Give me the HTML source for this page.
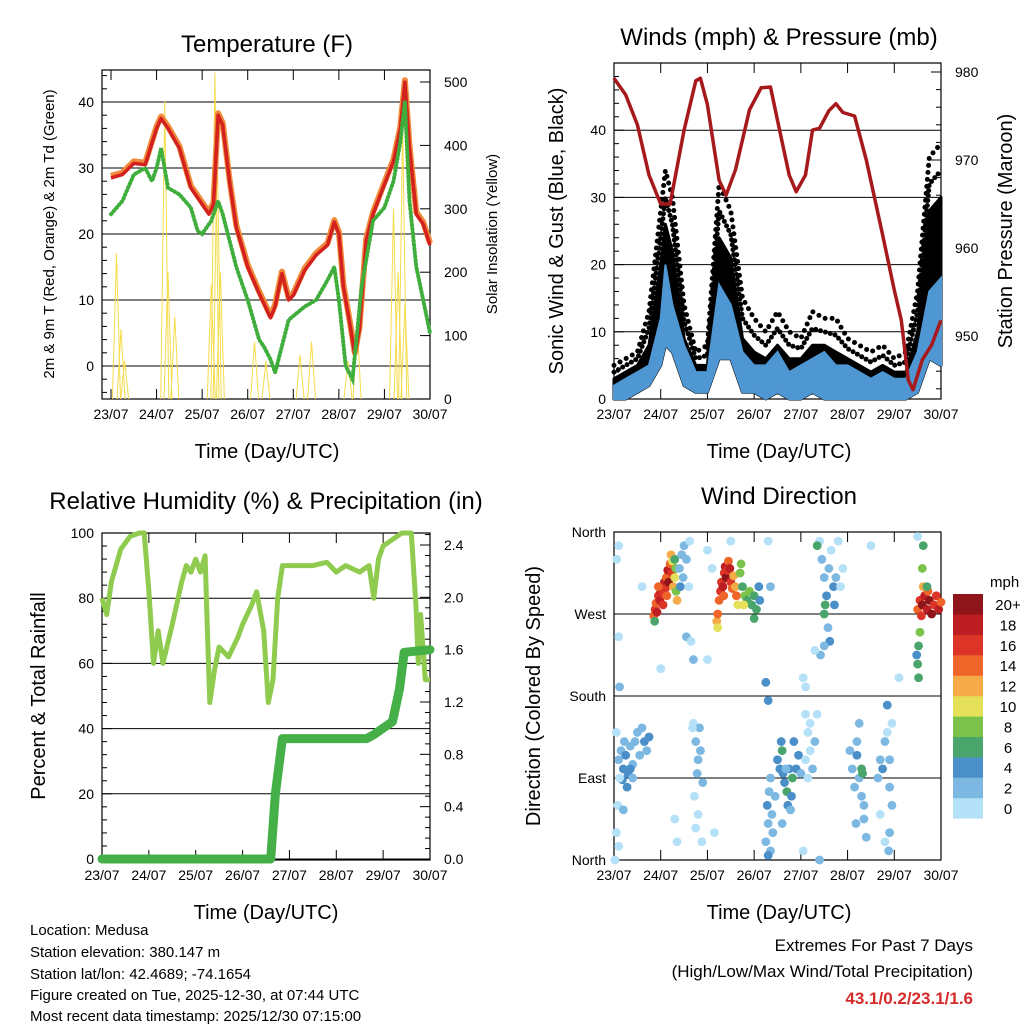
<!DOCTYPE html>
<html><head><meta charset="utf-8"><style>
body{margin:0;background:#fff;}
svg{display:block;font-family:"Liberation Sans",Arial,sans-serif;}
</style></head><body>
<svg id="s" width="1024" height="1024" viewBox="0 0 1024 1024">
<g font-size="24" text-anchor="middle">
<text x="267" y="52">Temperature (F)</text>
<text x="779" y="45">Winds (mph) &amp; Pressure (mb)</text>
<text x="266" y="509">Relative Humidity (%) &amp; Precipitation (in)</text>
<text x="779" y="504">Wind Direction</text>
</g>
<g font-size="20" text-anchor="middle">
<text x="267" y="458">Time (Day/UTC)</text>
<text x="779" y="458">Time (Day/UTC)</text>
<text x="266" y="919">Time (Day/UTC)</text>
<text x="779" y="919">Time (Day/UTC)</text>
<text transform="translate(54,234) rotate(-90)" font-size="15">2m &amp; 9m T (Red, Orange) &amp; 2m Td (Green)</text>
<text transform="translate(497,234) rotate(-90)" font-size="15">Solar Insolation (Yellow)</text>
<text transform="translate(563,231) rotate(-90)">Sonic Wind &amp; Gust (Blue, Black)</text>
<text transform="translate(1012,231) rotate(-90)">Station Pressure (Maroon)</text>
<text transform="translate(45,696) rotate(-90)">Percent &amp; Total Rainfall</text>
<text transform="translate(540,696) rotate(-90)">Direction (Colored By Speed)</text>
</g>
<g font-size="15">
<text x="30" y="935">Location: Medusa</text>
<text x="30" y="957">Station elevation: 380.147 m</text>
<text x="30" y="979">Station lat/lon: 42.4689; -74.1654</text>
<text x="30" y="1000">Figure created on Tue, 2025-12-30, at 07:44 UTC</text>
<text x="30" y="1021">Most recent data timestamp: 2025/12/30 07:15:00</text>
</g>
<g font-size="17" text-anchor="end">
<text x="973" y="951">Extremes For Past 7 Days</text>
<text x="973" y="977">(High/Low/Max Wind/Total Precipitation)</text>
<text x="973" y="1004" fill="#d62a2a" font-weight="bold">43.1/0.2/23.1/1.6</text>
</g>
</svg>
<script>
// ---- data ----
const dayLabels=["23/07","24/07","25/07","26/07","27/07","28/07","29/07","30/07"];
const tempTimes=[0,0.25,0.5,0.75,1.0,1.1,1.25,1.5,1.75,2.0,2.15,2.25,2.35,2.45,2.6,2.75,3.0,3.25,3.5,3.6,3.75,3.9,4.0,4.25,4.5,4.75,4.9,5.0,5.1,5.25,5.35,5.45,5.6,5.75,6.0,6.2,6.35,6.45,6.55,6.7,6.85,7.0];
const tempValues=[28.5,29,30.7,30.5,36,37.5,36,33,27,24.5,23,24.5,38,36.5,28,21,15,11,7.3,9,14,10,10.7,14.5,16.8,18.3,21.8,20,12,6,1.7,5.5,19,23,27.5,31,36,43,33,23,21.5,18.3];
const dewTimes=[0,0.25,0.5,0.75,0.9,1.0,1.1,1.25,1.5,1.75,1.9,2.0,2.2,2.35,2.45,2.6,2.75,3.0,3.25,3.35,3.5,3.6,3.75,3.9,4.25,4.5,4.75,4.9,5.0,5.15,5.3,5.5,5.75,6.0,6.2,6.35,6.45,6.55,6.7,6.85,7.0];
const dewValues=[23,25,29,30,28,30,33,27,26,24,20.5,20,22,25,23,19,15,10,4,3,1,-1,3,7,9,10,13,15,10,0,-2,12,22,24,28,34,40,25,15,10,5];
const solarTimes=[0.12,0.22,0.3,1.18,1.25,1.4,2.2,2.28,2.33,2.4,3.15,3.4,4.15,4.4,5.2,5.4,6.2,6.3,6.4,6.45];
const solarValues=[230,110,60,470,200,130,180,515,400,200,90,60,70,90,60,120,300,200,430,150];
const presTimes=[0,0.25,0.5,0.75,1.0,1.2,1.5,1.75,1.85,2.0,2.25,2.4,2.6,2.9,3.15,3.35,3.5,3.75,3.9,4.1,4.25,4.4,4.6,4.75,4.9,5.15,5.4,5.75,6.0,6.15,6.3,6.4,6.6,6.8,7.0];
const presValues=[979.3,977.4,974,968.3,965,965,973.4,979,979.3,976.3,967.7,966,968.9,975.7,978.2,978.3,974.5,968.3,966.4,968.3,973.4,973.6,975.6,976.4,975.4,975,970,961.5,955.2,951.8,945,943.9,947.3,949,951.8];
const windTimes=[0,0.25,0.5,0.75,1.0,1.1,1.25,1.5,1.75,2.0,2.25,2.5,2.75,3.0,3.25,3.5,3.75,4.0,4.25,4.5,4.75,5.0,5.25,5.5,5.75,6.0,6.25,6.5,6.75,7.0];
const windLow=[0,0,1,2,5,8,7,2,1,1,6,6,1,1,0,1,0,0,1,0,0,0,0,0,0,0,0,1,6,5];
const windHigh=[2,3,4,5,12,20,14,8,4,4,17,14,7,5,5,7,4,5,6,7,5,5,4,3,4,3,3,7,16,18];
const gustCore=[3,4,5,8,20,26,22,9,5,5,24,21,9,7,6,8,6,6,8,8,7,6,5,4,5,4,4,10,28,30];
const gustHigh=[5,6,7,13,28,34,30,14,7,8,32,28,15,12,10,13,10,9,13,12,12,9,8,7,8,6,7,16,36,38];
const rhTimes=[0,0.1,0.2,0.4,0.6,0.8,0.9,1.0,1.1,1.2,1.3,1.5,1.7,1.8,1.9,2.0,2.1,2.2,2.25,2.3,2.4,2.5,2.7,2.9,3.0,3.2,3.3,3.45,3.55,3.65,3.75,3.85,4.0,4.5,4.8,5.0,5.2,5.5,5.7,5.8,5.9,6.0,6.2,6.4,6.6,6.7,6.75,6.8,6.9,7.0];
const rhValues=[80,75,85,95,99,100,100,82,60,70,60,72,85,90,88,92,88,93,70,48,58,65,62,68,72,78,82,70,48,55,80,90,90,90,91,88,90,88,90,80,92,96,98,100,100,78,60,75,55,55];
const rainTimes=[0,3.6,3.7,3.85,5.65,5.8,6.0,6.2,6.35,6.45,7.0];
const rainValues=[0,0,0.5,0.92,0.92,0.95,1.0,1.05,1.3,1.58,1.6];
const dirObs=[[0.85,268,14],[0.88,275,16],[0.9,282,15],[0.92,272,18],[0.95,290,17],[0.98,285,19],[1.0,295,18],[1.02,300,20],[1.05,292,17],[1.08,305,19],[1.1,298,16],[1.12,310,15],[1.15,318,18],[1.17,305,20],[1.2,325,14],[1.22,335,12],[1.24,315,17],[1.27,300,13],[1.3,310,10],[1.33,295,8],[1.35,285,12],[0.87,262,6],[0.95,300,14],[1.05,280,16],[1.13,290,14],[1.25,328,10],[1.32,320,8],[1.3,330,7],
[1.4,320,3],[1.45,335,2],[1.5,345,2],[1.42,300,4],[1.48,310,3],[1.55,330,2],[1.6,300,1],[1.62,350,1],[1.55,245,3],[1.7,220,2],[1.65,240,1],
[2.2,262,12],[2.22,270,14],[2.25,285,15],[2.28,295,16],[2.3,305,17],[2.33,300,18],[2.36,315,16],[2.38,322,19],[2.4,310,20],[2.43,318,17],[2.45,328,14],[2.48,320,18],[2.5,305,16],[2.53,298,15],[2.56,312,13],[2.6,300,12],[2.62,290,14],[2.65,280,10],[2.22,255,10],[2.35,290,14],
[2.7,315,8],[2.75,300,7],[2.8,290,9],[2.85,285,6],[2.9,295,8],[2.95,280,7],[3.0,290,6],[3.05,275,7],[3.1,300,4],[3.12,285,5],[2.72,325,8],[2.78,280,10],[3.0,265,6],
[6.5,275,15],[6.55,285,17],[6.6,280,20],[6.65,290,19],[6.7,275,18],[6.75,285,22],[6.8,270,20],[6.85,280,17],[6.9,290,16],[6.95,275,18],[7.0,283,15],[6.58,268,16],[6.72,295,14],[6.62,300,12],
[6.6,320,8],[6.62,345,7],[6.55,250,8],[6.52,235,7],[6.5,215,6],[6.52,200,6],[6.48,225,4],[6.7,300,6],
[0.1,110,2],[0.15,120,3],[0.2,100,4],[0.25,115,4],[0.3,95,4],[0.35,125,3],[0.4,105,2],[0.45,130,3],[0.5,140,2],[0.55,115,3],[0.6,145,2],[0.65,130,4],[0.7,120,3],[0.75,135,4],[0.22,130,2],[0.28,80,4],[0.18,88,4],[0.05,140,1],[0.12,90,1],[0.35,100,4],[0.4,90,3],
[0.05,30,1],[0.1,15,0],[0.02,0,0],[0.08,60,1],[0.06,330,1],[0.1,345,0],[0.1,245,1],[0.12,190,3],[0.2,55,2],
[1.7,150,1],[1.75,130,2],[1.8,110,2],[1.85,120,2],[1.78,95,2],[1.72,70,1],[1.8,50,1],[1.88,20,1],[1.75,35,1],[1.83,145,2],[1.9,85,2],[1.68,145,1],
[3.25,20,3],[3.3,40,3],[3.35,10,3],[3.28,60,4],[3.32,75,3],[3.38,50,3],[3.4,30,2],[3.3,5,4],[3.35,90,2],[3.45,70,3],[3.25,195,4],[3.3,175,4],
[3.5,110,4],[3.55,100,5],[3.6,120,6],[3.62,95,5],[3.65,85,4],[3.7,75,6],[3.72,60,4],[3.75,100,5],[3.8,70,4],[3.85,130,4],[3.9,100,5],[3.95,115,4],[4.0,95,3],[3.58,130,4],[3.68,100,3],[3.82,90,6],[3.78,55,3],[3.6,40,2],
[4.1,160,1],[4.15,140,1],[4.2,120,1],[4.25,100,2],[4.1,110,1],[4.2,150,1],[4.3,130,2],[4.15,90,1],[4.05,10,0],[4.1,190,1],
[4.4,350,1],[4.45,330,2],[4.5,310,3],[4.55,290,4],[4.5,270,7],[4.52,280,6],[4.6,320,2],[4.65,340,1],[4.7,300,4],[4.75,310,3],[4.8,350,1],[4.72,280,4],[4.58,255,3],[4.62,240,4],[4.42,225,3],[4.5,235,2],[4.85,300,1],[4.9,320,1],[4.35,345,6],
[5.05,120,2],[5.1,100,3],[5.15,80,2],[5.2,115,4],[5.25,90,3],[5.3,70,2],[5.35,60,2],[5.3,100,6],[5.32,95,7],[5.35,45,2],[5.4,25,2],[5.2,130,3],[5.25,150,2],[5.18,40,2],
[5.65,90,2],[5.7,110,3],[5.75,100,4],[5.8,130,2],[5.85,140,1],[5.9,80,2],[5.95,60,2],[5.95,150,1],[5.9,30,2],[5.8,20,1],[5.85,170,4],[5.9,110,3],[5.7,50,1],[5.88,10,3],
[2.0,340,1],[2.1,320,1],[2.0,220,1],[2.5,350,0],[3.3,350,1],[3.35,300,3],[4.3,230,1],[4.35,160,1],[4.05,200,1],[4.4,0,2],[5.5,345,1],[6.5,355,1],[6.1,200,1],[1.35,20,1],[1.3,45,1],[2.15,30,1],[1.0,210,1],[0.6,300,1]];
const speedBinLabels=["0","2","4","6","8","10","12","14","16","18","20+"];
const speedColors=["#b4e1f7","#7db8e2","#4a8fc7","#4aa56d","#7bc24a","#e5e05a","#f5ab47","#ef6529","#dc3427","#bd1e24","#8e1519"];

// ---- helpers ----
const S=document.getElementById('s');const NS="http://www.w3.org/2000/svg";
function el(tag,attrs,parent){const e=document.createElementNS(NS,tag);for(const k in attrs)e.setAttribute(k,attrs[k]);(parent||S).appendChild(e);return e;}
function lin(d0,d1,r0,r1){return v=>r0+(v-d0)*(r1-r0)/(d1-d0);}
function pathOf(ts,vs,fx,fy){return ts.map((t,i)=>(i?'L':'M')+fx(t).toFixed(1)+','+fy(vs[i]).toFixed(1)).join('');}

function panel(name,x0,x1,y0,y1,xDay0,leftTicks,leftFmt,rightTicks,rightFmt,fyL,fyR,leftMinor,rightMinor){
  const g=el('g',{});
  
  
  const fx=lin(0,7,xDay0,x1);
  leftTicks.forEach(v=>{const y=fyL(v);el('line',{x1:x0,x2:x1,y1:y,y2:y,stroke:'#000','stroke-width':1},g);});
  el('rect',{x:x0,y:y0,width:x1-x0,height:y1-y0,fill:'none',stroke:'#000','stroke-width':1.2},g);
  for(let d=0;d<=7;d++){const x=fx(d);
    el('line',{x1:x,x2:x,y1:y1,y2:y1-10,stroke:'#000'},g);el('line',{x1:x,x2:x,y1:y0,y2:y0+10,stroke:'#000'},g);
    const t=el('text',{x:x,y:y1+20,'font-size':14,'text-anchor':'middle'},g);t.textContent=dayLabels[d];}
  leftTicks.forEach((v,i)=>{const y=fyL(v);el('line',{x1:x0,x2:x0+10,y1:y,y2:y,stroke:'#000'},g);
    const t=el('text',{x:x0-8,y:y+5,'font-size':14,'text-anchor':'end'},g);t.textContent=leftFmt[i];});
  (leftMinor||[]).forEach(v=>{const y=fyL(v);el('line',{x1:x0,x2:x0+5,y1:y,y2:y,stroke:'#000'},g);});
  if(rightTicks){rightTicks.forEach((v,i)=>{const y=fyR(v);el('line',{x1:x1,x2:x1-10,y1:y,y2:y,stroke:'#000'},g);
    const t=el('text',{x:x1+14,y:y+5,'font-size':14,'text-anchor':'start'},g);t.textContent=rightFmt[i];});
    (rightMinor||[]).forEach(v=>{const y=fyR(v);el('line',{x1:x1,x2:x1-5,y1:y,y2:y,stroke:'#000'},g);});}
  return {fx,g};
}

// ---- Temperature panel ----
{const fyL=lin(0,40,366,102),fyR=lin(0,500,399,82);
 const mk=[];for(let v=-4;v<=44;v+=2)if(v%10)mk.push(v);
 const P=panel('temp',102,430,70,399,111,[0,10,20,30,40],["0","10","20","30","40"],[0,100,200,300,400,500],["0","100","200","300","400","500"],fyL,fyR,mk,[]);
 solarTimes.forEach((t,i)=>{const x=P.fx(t);
   const p=el('path',{d:`M${x-4},${fyR(0)}L${x},${fyR(solarValues[i])}L${x+4},${fyR(0)}`,fill:'none',stroke:'#f5dc4a','stroke-width':1});
   
   });
 const o=el('path',{d:pathOf(tempTimes,tempValues.map(v=>v+0.3),P.fx,fyL),fill:'none',stroke:'#f08a3a','stroke-width':6,'stroke-linejoin':'round'});
 
 
 const r=el('path',{d:pathOf(tempTimes,tempValues,P.fx,fyL),fill:'none',stroke:'#d3211f','stroke-width':3.5,'stroke-linejoin':'round'});
 
 
 const d=el('path',{d:pathOf(dewTimes,dewValues,P.fx,fyL),fill:'none',stroke:'#3fae3c','stroke-width':4,'stroke-dasharray':'1 3','stroke-linecap':'round'});
 
 
}
// ---- Wind panel ----
{const fyL=lin(0,10,399,331.8),fyR=lin(950,980,336,72);
 const mk=[];for(let v=2;v<=48;v+=2)if(v%10)mk.push(v);
 const pm=[];for(let v=944;v<=981;v+=2)if(v%10)pm.push(v);
 const P=panel('wind',614,941,63,399,614,[0,10,20,30,40],["0","10","20","30","40"],[950,960,970,980],["950","960","970","980"],fyL,fyR,mk,pm);
 const rev=a=>a.slice().reverse();
 const gd=el('path',{d:pathOf(windTimes,gustHigh,P.fx,fyL),fill:'none',stroke:'#000','stroke-width':5,'stroke-dasharray':'0 7','stroke-linecap':'round'});
 
 
 const gm=el('path',{d:pathOf(windTimes,gustHigh.map((v,i)=>(v+gustCore[i])/2),P.fx,fyL),fill:'none',stroke:'#000','stroke-width':5,'stroke-dasharray':'0 5','stroke-linecap':'round'});
 
 
 const gp=pathOf(windTimes,gustCore,P.fx,fyL)+pathOf(rev(windTimes),rev(windLow),P.fx,fyL).replace('M','L')+'Z';
 const gb=el('path',{d:gp,fill:'#000',stroke:'#000','stroke-width':3,'stroke-linejoin':'round'});
 
 
 const wp=pathOf(windTimes,windHigh,P.fx,fyL)+pathOf(rev(windTimes),rev(windLow),P.fx,fyL).replace('M','L')+'Z';
 const wb=el('path',{d:wp,fill:'#4f97d2',stroke:'#4f97d2','stroke-width':2});
 
 
 const pr=el('path',{d:pathOf(presTimes,presValues,P.fx,fyR),fill:'none',stroke:'#a6191c','stroke-width':3.5,'stroke-linejoin':'round'});
 
 
}
// ---- RH panel ----
{const fyL=lin(0,100,859,533),fyR=lin(0,2.4,859,545);
 const mk=[];for(let v=4;v<100;v+=4)if(v%20)mk.push(v);
 const rm=[];for(let v=0.08;v<2.5;v+=0.08)if(Math.abs(v*10-Math.round(v*10/4)*4)>0.1)rm.push(v);
 const P=panel('rh',102,430,533,860,102,[0,20,40,60,80,100],["0","20","40","60","80","100"],[0,0.4,0.8,1.2,1.6,2.0,2.4],["0.0","0.4","0.8","1.2","1.6","2.0","2.4"],fyL,fyR,mk,rm);
 const h=el('path',{d:pathOf(rhTimes,rhValues,P.fx,fyL),fill:'none',stroke:'#8fcb4e','stroke-width':5,'stroke-linejoin':'round'});
 
 
 const rn=el('path',{d:pathOf(rainTimes,rainValues,P.fx,fyR),fill:'none',stroke:'#44b047','stroke-width':9,'stroke-linejoin':'round','stroke-linecap':'round'});
 
 
}
// ---- Direction panel ----
{const fyL=lin(0,360,860,532);
 const P=panel('dir',614,941,532,860,614,[0,90,180,270,360],["North","East","South","West","North"],null,null,fyL,null,[],[]);
 dirObs.forEach(o=>{const b=Math.min(10,Math.floor(o[2]/2));
   const c=el('circle',{cx:P.fx(o[0]),cy:fyL(o[1]),r:4.4,fill:speedColors[b]});
   
   });
 const lg=el('g',{});
 
 
 const t0=el('text',{x:990,y:587,'font-size':15},lg);t0.textContent='mph';
 speedColors.forEach((c,i)=>{const y=594+(10-i)*20.4;
   el('rect',{x:953,y:y,width:30,height:20.6,fill:c},lg);
   const t=el('text',{x:1008,y:y+16,'font-size':15,'text-anchor':'middle'},lg);t.textContent=speedBinLabels[i];});
}
</script>
</body></html>
